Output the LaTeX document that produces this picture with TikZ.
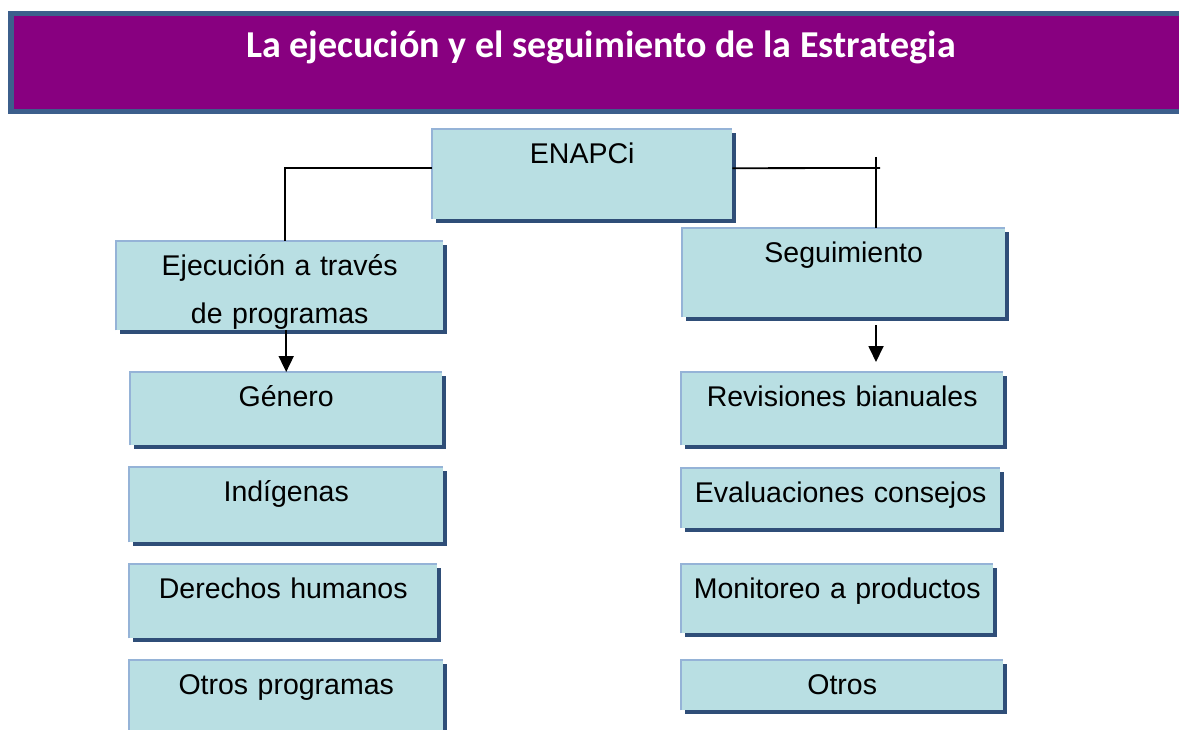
\documentclass[tikz,border=0pt]{standalone}
\usepackage{fontspec}
\setmainfont{Liberation Sans}
\newfontfamily\titlefont{Carlito}
\usetikzlibrary{arrows.meta,shadows}
\definecolor{moradotit}{HTML}{880080}
\definecolor{bordetit}{HTML}{3C5F8C}
\definecolor{fondocaja}{HTML}{B9DFE3}
\definecolor{bordeclaro}{HTML}{95B3D7}
\definecolor{sombracaja}{HTML}{2F4E78}
\begin{document}
\begin{tikzpicture}[x=1pt,y=-1pt,
    caja/.style={anchor=north west,fill=fondocaja,inner sep=0pt,align=center,
      text height=34pt,font=\fontsize{28.5}{48}\selectfont,
      drop shadow={shadow xshift=3.5pt,shadow yshift=-3.5pt,fill=sombracaja,opacity=1}},
    linea/.style={line width=1.8pt},
    flecha/.style={line width=1.8pt,-{Triangle[length=16pt,width=15pt]}}]
    \useasboundingbox (0,0) rectangle (1179,730);
    \draw[bordetit,line width=5.5pt,fill=moradotit] (10.75,13.5) rectangle (1190,111.5);
    \node[text=white,anchor=base,font=\titlefont\bfseries\fontsize{38}{42}\selectfont] (titulo) at (601,58) {La ejecución y el seguimiento de la Estrategia};
    \node[caja,text width=300pt,text depth=56pt] (enapci) at (432,129) {ENAPCi};
    \node[caja,text width=327pt,text depth=55pt] (ejec) at (116,241) {Ejecución a través\\de programas};
    \node[caja,text width=323pt,text depth=55pt] (seg) at (682,228) {Seguimiento};
    \begin{scope}[every node/.append style={caja}]
      \node[text width=312pt,text depth=39pt] (genero) at (130,372) {Género};
      \node[text width=314pt,text depth=41pt] (indig) at (129,467) {Indígenas};
      \node[text width=308pt,text depth=40pt] (derechos) at (129,564) {Derechos humanos};
      \node[text width=314pt,text depth=56pt] (otrosprog) at (129,660) {Otros programas};
      \node[text width=322pt,text depth=39pt] (revis) at (681,372) {Revisiones bianuales};
      \node[text width=319pt,text depth=26pt] (evalua) at (681,468) {Evaluaciones consejos};
      \node[text width=312pt,text depth=35pt] (monit) at (681,564) {Monitoreo a productos};
      \node[text width=322pt,text depth=16pt] (otros) at (681,660) {Otros};
    \end{scope}
    \foreach \n in {enapci,ejec,seg,genero,indig,derechos,otrosprog,revis,evalua,monit,otros}
      \draw[bordeclaro,line width=2.5pt] (\n.south west) |- (\n.north east);
    \coordinate (cruce) at (876,157);
    \coordinate (fin) at (880,168);
    \draw[linea] ([yshift=6pt]enapci.west) -| ([xshift=5.5pt]ejec.north);
    \draw[linea] ([yshift=6pt]enapci.east) -- (fin);
    \draw[linea] (cruce) -- (cruce |- seg.north);
    \draw[flecha] (ejec.south -| genero.north) -- (genero.north);
    \draw[flecha] ([yshift=-8pt]seg.south -| cruce) -- ([yshift=10pt]revis.north -| cruce);
  \end{tikzpicture}
\end{document}
